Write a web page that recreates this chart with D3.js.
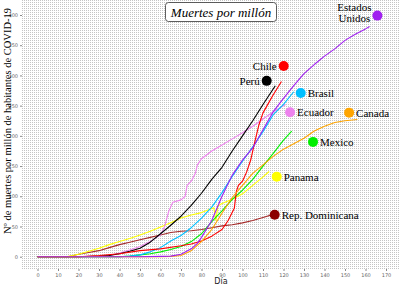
<!DOCTYPE html>
<html><head><meta charset="utf-8">
<script src="https://cdn.jsdelivr.net/npm/d3@7"></script>
<style>body{margin:0;background:#fff}svg{display:block}</style>
</head><body>
<svg id="c" width="399" height="286"></svg>
<script>
// ---- data (day since start, deaths per million) ----
const countries = ["Rep. Dominicana","Panama","Ecuador","Perú","Mexico","Brasil","Chile","Canada","Estados Unidos"];
const colors = ["#A52A2A","#FFFF00","#EE82EE","#000000","#00EE00","#00BFFF","#FF0000","#FFA500","#A020F0"];
const dotColors = ["#8B0000","#FFFF00","#EE82EE","#000000","#00EE00","#00BFFF","#FF0000","#FFA500","#A020F0"];
const dom = [[0,0],[15,0],[20,4],[25,7],[30,10],[35,15],[40,20],[45,24],[50,28],[55,32],[60,36],[65,40],[70,42],[75,43],[80,45],[85,48],[90,51],[95,53],[100,56],[105,60],[110,65],[115,70]];
const pan = [[0,0],[14,0],[20,4],[25,9],[30,14],[35,20],[40,25],[45,30],[50,36],[55,42],[60,49],[65,56],[70,64],[75,69],[80,73],[86,81],[87,60],[88,84],[90,88],[95,95],[100,104],[105,118],[110,132],[113,141]];
const ecu = [[0,0],[30,0],[35,2],[40,6],[45,11],[50,17],[55,25],[58,32],[60,36],[62,50],[64,75],[66,90],[70,94],[72,100],[73,118],[75,125],[77,138],[78,152],[80,162],[85,175],[90,185],[95,195],[100,205],[105,216],[110,228],[115,240],[121,252]];
const per = [[0,0],[20,0],[30,1],[35,2],[40,5],[45,9],[50,14],[55,24],[60,38],[65,52],[70,67],[75,85],[80,105],[85,128],[90,148],[95,175],[100,200],[105,225],[110,252],[116,283]];
const mex = [[0,0],[40,0],[45,1],[50,3],[55,5],[60,8],[65,12],[70,17],[75,25],[80,38],[85,58],[90,76],[95,95],[100,110],[105,128],[110,150],[115,171],[120,193],[124,208]];
const bra = [[0,0],[40,0],[45,1],[50,3],[55,8],[60,15],[65,26],[70,35],[75,48],[80,64],[85,82],[90,106],[95,133],[100,158],[105,182],[110,207],[115,235],[120,252],[125,273]];
const chi = [[0,0],[20,0],[30,2],[40,5],[50,10],[60,13],[70,18],[75,21],[80,26],[85,34],[90,45],[93,60],[96,80],[97,108],[98,118],[100,125],[102,140],[104,160],[106,190],[108,218],[110,238],[112,250],[115,268],[119,290]];
const can = [[0,0],[60,0],[65,0.5],[70,2],[75,10],[80,25],[85,45],[90,72],[95,98],[100,118],[105,138],[110,152],[115,166],[120,178],[125,187],[130,196],[135,208],[140,216],[145,222],[150,225],[156,227]];
const usa = [[0,0],[50,0],[60,0.5],[65,1],[70,4],[75,13],[78,22],[80,32],[85,60],[90,100],[95,135],[100,160],[105,180],[110,210],[115,240],[120,262],[125,283],[130,303],[135,318],[140,332],[145,344],[150,358],[155,368],[160,377],[162,381]];
const series = [dom,pan,ecu,per,mex,bra,chi,can,usa];
// label dot positions (day, value)
const dotPos = [[115.7,69.5],[116.7,132.5],[123.2,239],[111.8,291],[134.4,190],[128.4,271],[120.1,315.7],[152,238.4],[165.8,399]];
const labelSide = ["r","r","r","l","r","r","l","r","l"];
const xTicks = [0,10,20,30,40,50,60,70,80,90,100,110,120,130,140,150,160,170];
const yTicks = [0,50,100,150,200,250,300,350,400];
const title = "Muertes por millón";
const xTitle = "Día";
const yTitle = "Nº de muertes por millón de habitantes de COVID-19";

// ---- chart ----
const svg = d3.select("#c");
const panel = {x0:22, x1:399, y0:0, y1:269};
const x = d3.scaleLinear().domain([0,170]).range([37.5,386]);
const y = d3.scaleLinear().domain([0,400]).range([256.7,15]);

const defs = svg.append("defs");
const pat = defs.append("pattern").attr("id","bg").attr("width",2).attr("height",2).attr("patternUnits","userSpaceOnUse");
pat.append("rect").attr("width",2).attr("height",2).attr("fill","#ffffff").attr("shape-rendering","crispEdges");
pat.append("rect").attr("x",0).attr("y",0).attr("width",1).attr("height",1).attr("fill","#c4c4c4").attr("shape-rendering","crispEdges");

svg.append("rect").attr("x",panel.x0).attr("y",panel.y0).attr("width",panel.x1-panel.x0).attr("height",panel.y1-panel.y0)
  .attr("fill","url(#bg)").attr("shape-rendering","crispEdges");

// axes
const xAxis = d3.axisBottom(x).tickValues(xTicks).tickSize(2).tickPadding(2);
const gx = svg.append("g").attr("transform",`translate(0,${panel.y1})`).call(xAxis);
gx.select(".domain").remove();
gx.selectAll("line").attr("stroke","#888");
gx.selectAll("text").attr("font-family","DejaVu Sans").attr("font-size",5).attr("fill","#666");

const yAxis = d3.axisLeft(y).tickValues(yTicks).tickSize(2).tickPadding(2);
const gy = svg.append("g").attr("transform",`translate(${panel.x0},0)`).call(yAxis);
gy.select(".domain").remove();
gy.selectAll("line").attr("stroke","#888");
gy.selectAll("text").attr("font-family","DejaVu Sans").attr("font-size",5).attr("fill","#666");

// lines
const line = d3.line().x(d=>x(d[0])).y(d=>y(d[1]));
series.forEach((s,i)=>{
  svg.append("path").datum(s).attr("d",line).attr("fill","none")
    .attr("stroke",colors[i]).attr("stroke-width",1.1).attr("stroke-linejoin","round");
});

// dots and labels
countries.forEach((c,i)=>{
  const [dx,dy] = dotPos[i];
  svg.append("circle").attr("cx",x(dx)).attr("cy",y(dy)).attr("r",5).attr("fill",dotColors[i]);
  const side = labelSide[i];
  const t = svg.append("text").attr("font-family","Liberation Serif").attr("font-size",11).attr("fill","#000")
    .attr("text-anchor", side==="r"?"start":"end");
  const tx = side==="r" ? x(dx)+7 : x(dx)-7;
  if (c === "Estados Unidos") {
    t.attr("text-anchor","middle");
    t.append("tspan").attr("x",tx-16).attr("y",y(dy)-5).text("Estados");
    t.append("tspan").attr("x",tx-16).attr("y",y(dy)+6).text("Unidos");
  } else {
    t.attr("x",tx).attr("y",y(dy)+4).text(c);
  }
});

// title box
const tb = svg.append("g");
tb.append("rect").attr("x",165.5).attr("y",2.5).attr("width",111).attr("height",19).attr("rx",3)
  .attr("fill","#fff").attr("stroke","#333").attr("stroke-width",0.8);
tb.append("text").attr("x",221).attr("y",16.5).attr("text-anchor","middle")
  .attr("font-family","Liberation Serif").attr("font-style","italic").attr("font-size",13).text(title);

// axis titles
svg.append("text").attr("x",221).attr("y",284).attr("text-anchor","middle")
  .attr("font-family","DejaVu Sans").attr("font-size",8).attr("fill","#222").text(xTitle);
svg.append("text").attr("transform","translate(11,121) rotate(-90)").attr("text-anchor","middle")
  .attr("font-family","Liberation Serif").attr("font-size",10.5).attr("fill","#000").text(yTitle);
</script>
</body></html>
